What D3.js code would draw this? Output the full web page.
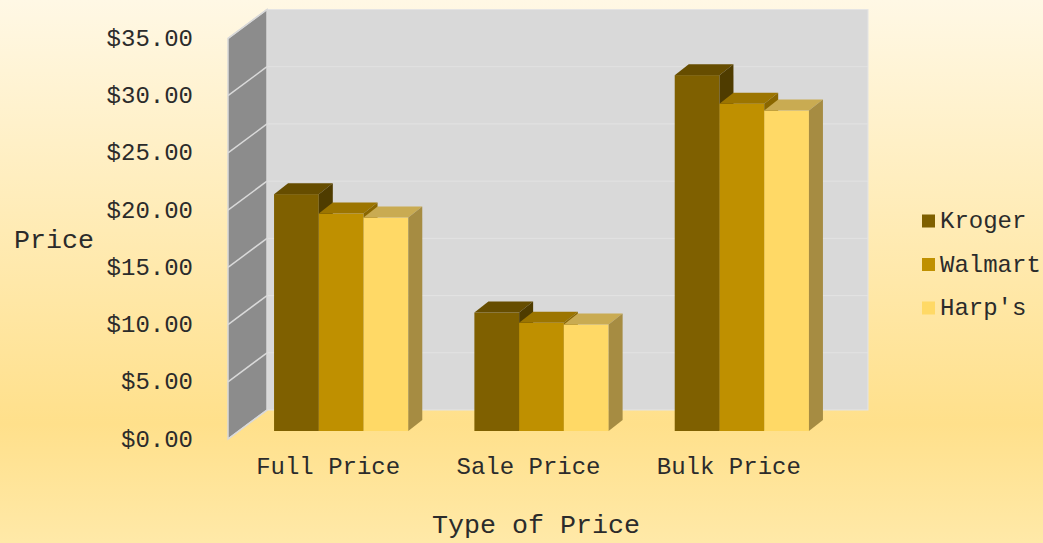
<!DOCTYPE html>
<html>
<head>
<meta charset="utf-8">
<script src="https://cdn.jsdelivr.net/npm/d3@7"></script>
<style>
  html, body { margin: 0; padding: 0; background: #fff; }
  svg { display: block; }
  text { font-family: "Courier New", "Liberation Mono", monospace; fill: #2b2b2b; }
</style>
</head>
<body>
<svg id="chart" width="1043" height="543"></svg>
<script>
// ---- data ----
const categories = ["Full Price", "Sale Price", "Bulk Price"];
const seriesNames = ["Kroger", "Walmart", "Harp's"];
const kroger  = [20.7, 10.35, 31.1];
const walmart = [19.0, 9.45, 28.6];
const harps   = [18.65, 9.3, 28.0];
const tickValues = [0, 5, 10, 15, 20, 25, 30, 35];
const tickLabels = ["$0.00", "$5.00", "$10.00", "$15.00", "$20.00", "$25.00", "$30.00", "$35.00"];
const xTitle = "Type of Price";
const yTitle = "Price";

const seriesValues = [kroger, walmart, harps];
const frontColors = ["#7F6000", "#BF9000", "#FFD966"];
const topColors   = ["#664D00", "#9C7500", "#C9AB52"];
const sideColors  = ["#4F3C00", "#8A6700", "#A68C42"];

const svg = d3.select("#chart");
const W = 1043, H = 543;

// background gradient
const defs = svg.append("defs");
const grad = defs.append("linearGradient").attr("id", "bg").attr("x1", 0).attr("y1", 0).attr("x2", 0).attr("y2", 1);
grad.append("stop").attr("offset", "0%").attr("stop-color", "#FFF8E5");
grad.append("stop").attr("offset", "78%").attr("stop-color", "#FFE08B");
grad.append("stop").attr("offset", "100%").attr("stop-color", "#FFE9A8");
svg.append("rect").attr("width", W).attr("height", H).attr("fill", "url(#bg)");

// ---- 3D geometry ----
const frontX0 = 228, frontX1 = 829;
const depthX = 39, depthY = -29;
const y = d3.scaleLinear().domain([0, 35]).range([439, 38.5]);
const bdx = 13, bdy = -8;            // offset of bar front face into the depth
const barDX = 14, barDY = -11;       // bar depth

// back wall
const backX0 = frontX0 + depthX, backX1 = frontX1 + depthX;
svg.append("rect")
  .attr("x", backX0).attr("y", y(35) + depthY)
  .attr("width", backX1 - backX0).attr("height", y(0) - y(35))
  .attr("fill", "#D9D9D9").attr("stroke", "#E4E4E4").attr("stroke-width", 1);

// back wall gridlines
svg.append("g").selectAll("line").data(tickValues.slice(1, -1)).join("line")
  .attr("x1", backX0).attr("x2", backX1)
  .attr("y1", d => y(d) + depthY).attr("y2", d => y(d) + depthY)
  .attr("stroke", "#E3E3E3").attr("stroke-width", 1);

// side wall
const sidePts = [
  [frontX0, y(0)], [frontX0, y(35)],
  [backX0, y(35) + depthY], [backX0, y(0) + depthY]
];
svg.append("polygon")
  .attr("points", sidePts.map(p => p.join(",")).join(" "))
  .attr("fill", "#8C8C8C").attr("stroke", "#D9D9D9").attr("stroke-width", 1.5);

// side wall gridlines
svg.append("g").selectAll("line").data(tickValues).join("line")
  .attr("x1", frontX0).attr("x2", backX0)
  .attr("y1", d => y(d)).attr("y2", d => y(d) + depthY)
  .attr("stroke", "#D9D9D9").attr("stroke-width", 1.5);

// x scales
const xFront = d3.scaleBand().domain(categories).range([frontX0, frontX1]).paddingInner(0.33).paddingOuter(0.165);
const xBar = d3.scaleBand().domain(categories).range([frontX0 + bdx, frontX1 + bdx]).paddingInner(0.33).paddingOuter(0.165);
const xSeries = d3.scaleBand().domain(seriesNames).range([0, xBar.bandwidth()]);

// bars
const barsG = svg.append("g");
categories.forEach((cat, ci) => {
  seriesNames.forEach((s, si) => {
    const v = seriesValues[si][ci];
    const x0 = xBar(cat) + xSeries(s);
    const x1 = x0 + xSeries.bandwidth();
    const yb = y(0) + bdy;
    const yt = y(v) + bdy;
    const g = barsG.append("g");
    g.append("rect").attr("x", x0).attr("y", yt).attr("width", x1 - x0).attr("height", yb - yt)
      .attr("fill", frontColors[si]);
    g.append("polygon")
      .attr("points", [[x0, yt], [x0 + barDX, yt + barDY], [x1 + barDX, yt + barDY], [x1, yt]].map(p => p.join(",")).join(" "))
      .attr("fill", topColors[si]);
    g.append("polygon")
      .attr("points", [[x1, yt], [x1 + barDX, yt + barDY], [x1 + barDX, yb + barDY], [x1, yb]].map(p => p.join(",")).join(" "))
      .attr("fill", sideColors[si]);
  });
});

// y tick labels
svg.append("g").selectAll("text").data(tickValues).join("text")
  .attr("x", 193).attr("y", d => y(d) + 7.5)
  .attr("text-anchor", "end").attr("font-size", 24)
  .text((d, i) => tickLabels[i]);

// category labels
svg.append("g").selectAll("text").data(categories).join("text")
  .attr("x", d => xFront(d) + xFront.bandwidth() / 2).attr("y", 474)
  .attr("text-anchor", "middle").attr("font-size", 24)
  .text(d => d);

// axis titles
svg.append("text").attr("x", 536).attr("y", 533).attr("text-anchor", "middle")
  .attr("font-size", 26.67).text(xTitle);
svg.append("text").attr("x", 14).attr("y", 248).attr("text-anchor", "start")
  .attr("font-size", 26.67).text(yTitle);

// legend
const legend = svg.append("g").selectAll("g").data(seriesNames).join("g")
  .attr("transform", (d, i) => `translate(922, ${221 + i * 43.5})`);
legend.append("rect").attr("x", 0).attr("y", -6.5).attr("width", 13).attr("height", 13)
  .attr("fill", (d, i) => frontColors[i]);
legend.append("text").attr("x", 18).attr("y", 7).attr("font-size", 24).text(d => d);
</script>
</body>
</html>
